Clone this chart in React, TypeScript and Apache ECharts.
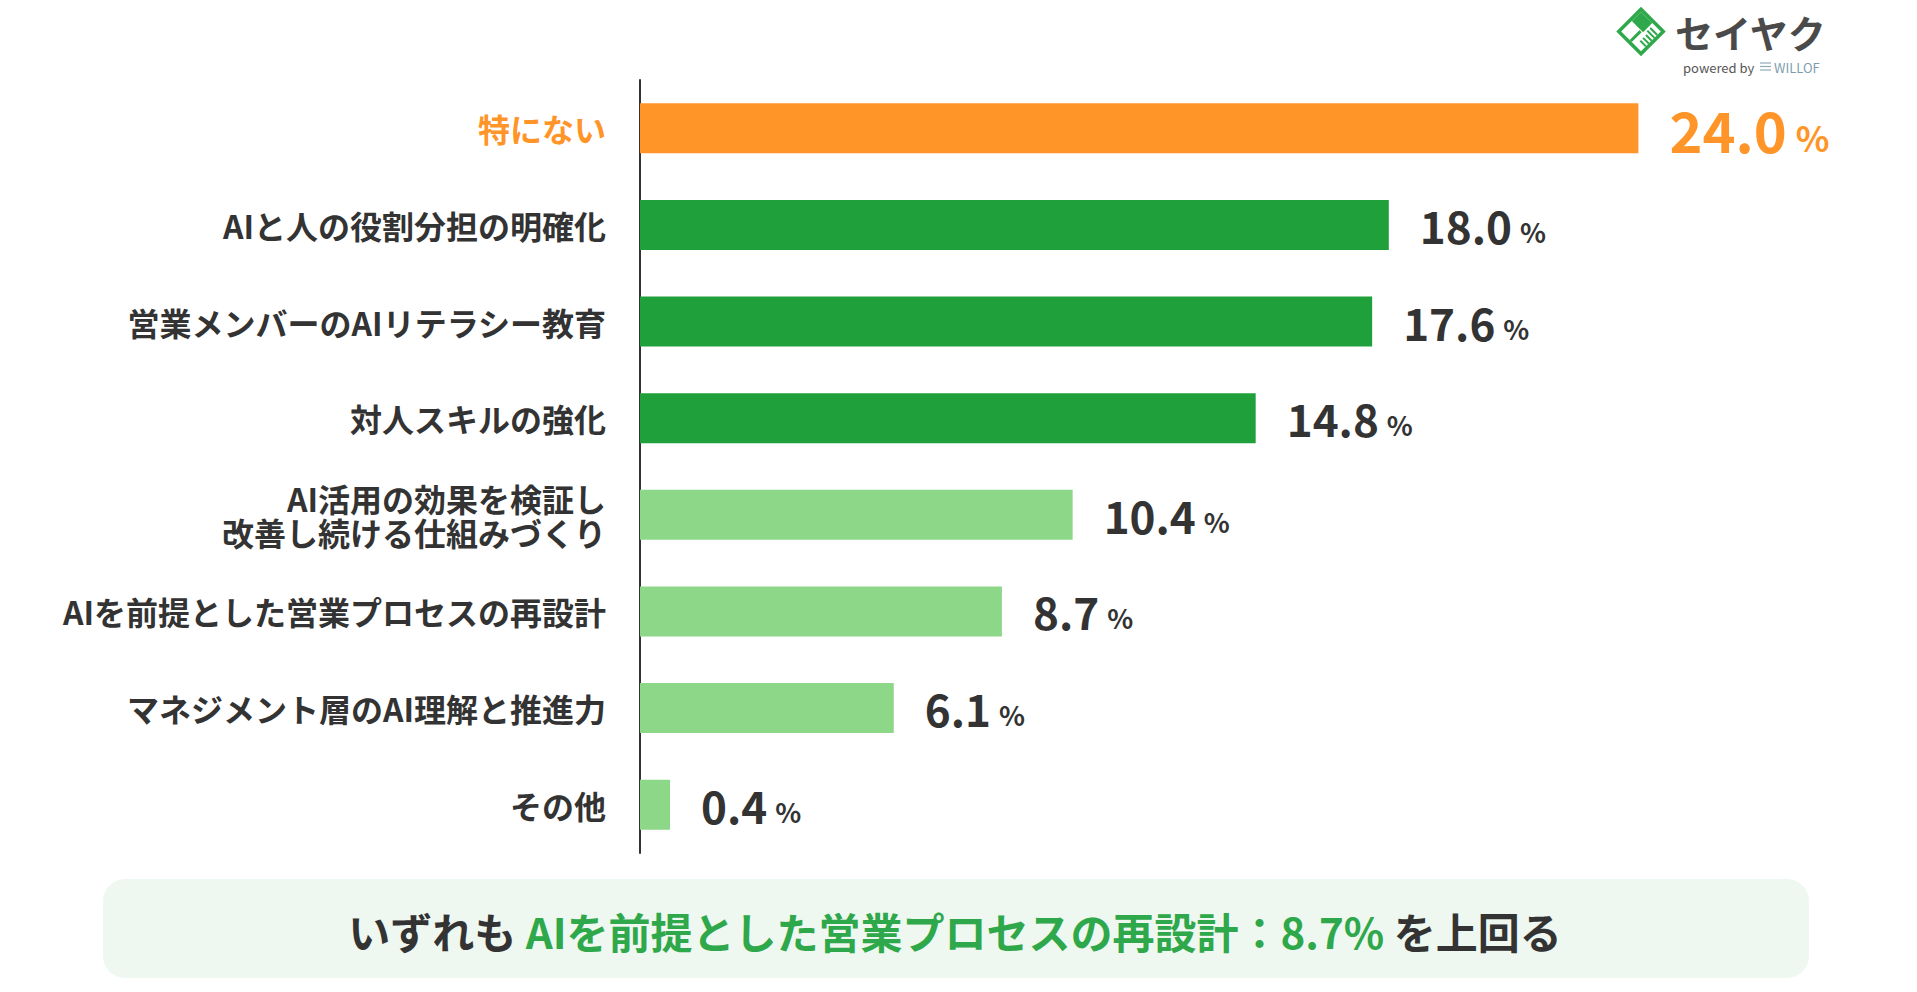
import React, { useEffect, useRef } from "react";
import * as echarts from "echarts";

const categories: string[] = [
  "特にない",
  "AIと人の役割分担の明確化",
  "営業メンバーのAIリテラシー教育",
  "対人スキルの強化",
  "AI活用の効果を検証し\n改善し続ける仕組みづくり",
  "AIを前提とした営業プロセスの再設計",
  "マネジメント層のAI理解と推進力",
  "その他",
];
const values: number[] = [24.0, 18.0, 17.6, 14.8, 10.4, 8.7, 6.1, 0.4];
const barColors: string[] = [
  "#FF9529",
  "#1FA03B",
  "#1FA03B",
  "#1FA03B",
  "#8DD789",
  "#8DD789",
  "#8DD789",
  "#8DD789",
];
const summaryPrefix = "いずれも ";
const summaryHighlight = "AIを前提とした営業プロセスの再設計：8.7%";
const summarySuffix = " を上回る";

const FONT = '"Noto Sans CJK JP", "Noto Sans", sans-serif';
const GREEN = "#2EA84A";
const ORANGE = "#FF9529";
const DARK = "#333333";

export default function App() {
  const ref = useRef<HTMLDivElement>(null);
  useEffect(() => {
    if (!ref.current) return;
    const chart = echarts.init(ref.current, null, { renderer: "svg" });
    const option: any = {
      animation: false,
      backgroundColor: "#ffffff",
      textStyle: { fontFamily: FONT },
      grid: { left: 640, width: 1248, top: 80, height: 773, containLabel: false },
      xAxis: {
        type: "value",
        min: 0,
        max: 30,
        show: false,
        splitLine: { show: false },
      },
      yAxis: {
        type: "category",
        inverse: true,
        data: categories,
        axisTick: { show: false },
        axisLine: { show: true, lineStyle: { color: "#333", width: 2 } },
        axisLabel: {
          margin: 34,
          formatter: (v: string, i: number) =>
            i === 0 ? `{o|${v}}` : `{d|${v}}`,
          rich: {
            o: {
              fontFamily: FONT,
              fontSize: 32,
              fontWeight: "bold",
              color: ORANGE,
              lineHeight: 34,
              align: "right",
            },
            d: {
              fontFamily: FONT,
              fontSize: 32,
              fontWeight: "bold",
              color: DARK,
              lineHeight: 34,
              align: "right",
            },
          },
        },
      },
      series: [
        {
          type: "bar",
          barWidth: 50,
          barMinHeight: 30,
          data: values.map((v, i) => ({
            value: v,
            itemStyle: { color: barColors[i] },
          })),
          label: {
            show: true,
            position: "right",
            distance: 31,
            formatter: (p: any) =>
              p.dataIndex === 0
                ? `{on|${Number(p.value).toFixed(1)}}{op|%}`
                : `{n|${Number(p.value).toFixed(1)}}{p|%}`,
            rich: {
              on: {
                fontFamily: FONT,
                fontSize: 56,
                fontWeight: "bold",
                color: ORANGE,
                verticalAlign: "bottom",
              },
              op: {
                fontFamily: FONT,
                fontSize: 35,
                fontWeight: "bold",
                color: ORANGE,
                verticalAlign: "bottom",
                padding: [0, 0, 2, 9],
              },
              n: {
                fontFamily: FONT,
                fontSize: 44,
                fontWeight: "bold",
                color: DARK,
                verticalAlign: "bottom",
              },
              p: {
                fontFamily: FONT,
                fontSize: 27,
                fontWeight: "bold",
                color: DARK,
                verticalAlign: "bottom",
                padding: [0, 0, 2, 8],
              },
            },
          },
        },
      ],
      graphic: [
        {
          type: "rect",
          shape: { x: 103, y: 879, width: 1706, height: 99, r: 22 },
          style: { fill: "#EEF7F0" },
          z: 0,
        },
        {
          type: "text",
          x: 955,
          y: 930,
          style: {
            text: `{d|${summaryPrefix}}{g|${summaryHighlight}}{d|${summarySuffix}}`,
            align: "center",
            verticalAlign: "middle",
            rich: {
              d: { fontFamily: FONT, fontSize: 42, fontWeight: "bold", fill: DARK },
              g: { fontFamily: FONT, fontSize: 42, fontWeight: "bold", fill: GREEN },
            },
          },
          z: 2,
        },
        {
          type: "group",
          x: 1641,
          y: 31.5,
          rotation: Math.PI / 4,
          children: [
            { type: "rect", shape: { x: -17.5, y: -17.5, width: 35, height: 35 }, style: { fill: GREEN } },
            { type: "rect", shape: { x: -14, y: -14, width: 28, height: 28 }, style: { fill: "#fff" } },
            { type: "rect", shape: { x: 1, y: -14, width: 13, height: 16 }, style: { fill: GREEN } },
            { type: "rect", shape: { x: -14, y: -2, width: 14, height: 3 }, style: { fill: GREEN } },
            { type: "line", shape: { x1: -7, y1: 6, x2: -7, y2: 14 }, style: { stroke: GREEN, lineWidth: 2 } },
            { type: "line", shape: { x1: -3, y1: 6, x2: -3, y2: 14 }, style: { stroke: GREEN, lineWidth: 2 } },
            { type: "line", shape: { x1: 1, y1: 6, x2: 1, y2: 14 }, style: { stroke: GREEN, lineWidth: 2 } },
            { type: "line", shape: { x1: 5, y1: 4, x2: 5, y2: 14 }, style: { stroke: GREEN, lineWidth: 2 } },
            { type: "line", shape: { x1: 9, y1: 4, x2: 9, y2: 14 }, style: { stroke: GREEN, lineWidth: 2 } },
          ],
        },
        {
          type: "text",
          x: 1675,
          y: 31,
          style: {
            text: "セイヤク",
            fontFamily: FONT,
            fontSize: 38,
            fontWeight: "bold",
            fill: "#4A4A4A",
            verticalAlign: "middle",
          },
        },
        {
          type: "text",
          x: 1683,
          y: 67,
          style: {
            text: "powered by",
            fontFamily: FONT,
            fontSize: 13,
            fontWeight: "normal",
            fill: "#555555",
            verticalAlign: "middle",
          },
        },
        { type: "line", shape: { x1: 1760, y1: 63, x2: 1771, y2: 63 }, style: { stroke: "#8FA9B8", lineWidth: 1.2 } },
        { type: "line", shape: { x1: 1760, y1: 66.5, x2: 1771, y2: 66.5 }, style: { stroke: "#8FA9B8", lineWidth: 1.2 } },
        { type: "line", shape: { x1: 1760, y1: 70, x2: 1771, y2: 70 }, style: { stroke: "#8FA9B8", lineWidth: 1.2 } },
        {
          type: "text",
          x: 1774,
          y: 67,
          style: {
            text: "WILLOF",
            fontFamily: FONT,
            fontSize: 13,
            fontWeight: "normal",
            fill: "#7F9DAD",
            verticalAlign: "middle",
          },
        },
      ],
    };
    chart.setOption(option);
    return () => chart.dispose();
  }, []);
  return (
    <div
      ref={ref}
      style={{ position: "fixed", left: 0, top: 0, width: 1917, height: 992, background: "#fff" }}
    />
  );
}
